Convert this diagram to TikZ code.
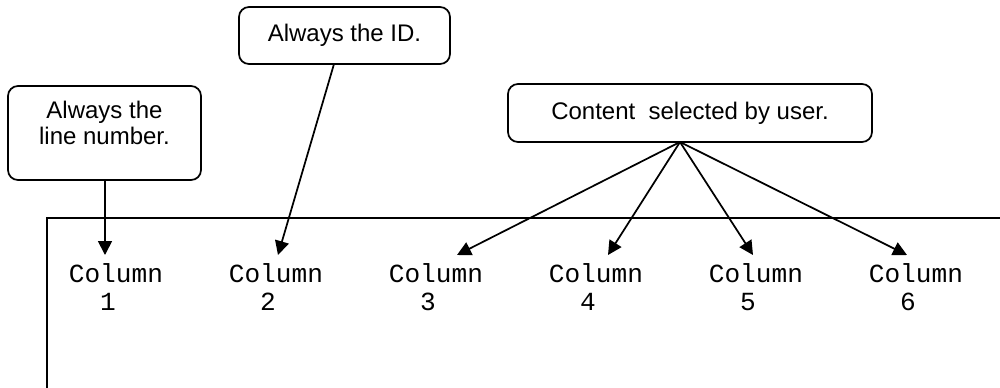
\documentclass[tikz,border=0pt]{standalone}
\usepackage{fontspec}
\setmainfont{Liberation Sans}
\setmonofont{Liberation Mono}
\usetikzlibrary{arrows.meta}
\begin{document}
\begin{tikzpicture}[x=0.75pt,y=-0.75pt,
  line width=1.3pt,
  callout/.style={draw, rounded corners=7.5pt, inner sep=0pt, align=center,
    font=\fontsize{18}{19.5}\selectfont},
  coltext/.style={inner sep=0pt, anchor=base west, font=\ttfamily\fontsize{19.6}{21}\selectfont},
  pointer/.style={-{Triangle[length=10.5pt,width=10.5pt]}, line width=1.3pt}]
\useasboundingbox (0,0) rectangle (1000,387);
% frame
\coordinate (fb) at (47,390);
\coordinate (fc) at (47,218);
\coordinate (fr) at (1003,218);
\draw (fb) -- (fc) -- (fr);
% callouts
\node[callout, minimum width=193*0.75pt, minimum height=94*0.75pt] (b1) at (104.5,133)
  {\raisebox{0pt}[\height][\dimexpr\depth+9.75pt\relax]{\begin{tabular}{@{}c@{}}Always the\\line number.\end{tabular}}};
\node[callout, minimum width=211*0.75pt, minimum height=57*0.75pt] (b2) at (344.5,35.5) {Always the ID.};
\node[callout, minimum width=364*0.75pt, minimum height=58*0.75pt] (b3) at (690,113) {Content\ \ selected by user.};
% columns
\foreach \i in {1,...,6} {
  \node[coltext] (c\i) at ({68+160*(\i-1)},282) {Column};
  \node[coltext] (n\i) at ({68+160*(\i-1)},310) {\phantom{Co}\i};
}
% arrow start/end points
\coordinate (s1) at (105,180);
\coordinate (s2) at (334,64);
\coordinate (s3) at (680,142);
\coordinate (t1) at (105,255);
\coordinate (t2) at (278,255);
\coordinate (t3) at (457,255);
\coordinate (t4) at (608,255);
\coordinate (t5) at (753,255);
\coordinate (t6) at (907,255);
\draw[pointer] (s1) -- (t1);
\draw[pointer] (s2) -- (t2);
\foreach \j in {3,4,5,6} \draw[pointer] (s3) -- (t\j);
\end{tikzpicture}
\end{document}
